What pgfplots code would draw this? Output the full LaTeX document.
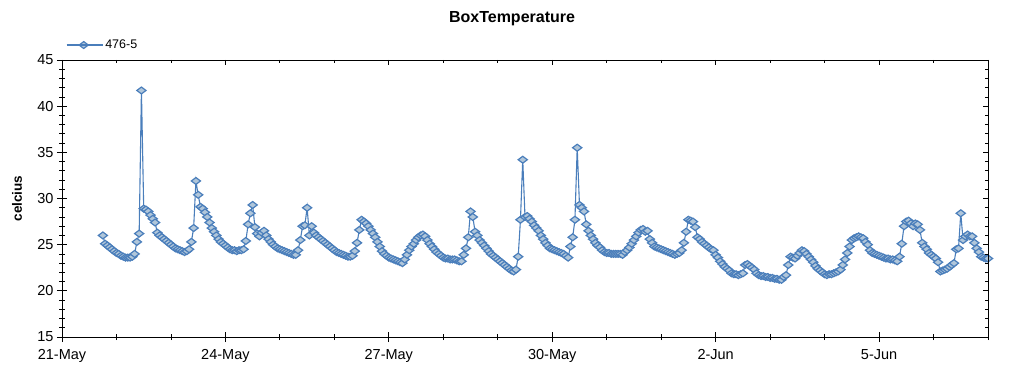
\documentclass[border=0pt]{standalone}
\usepackage{pgfplots}
\pgfplotsset{compat=1.18}
\usepackage{fontspec}
\setmainfont{Liberation Sans}
\definecolor{lineblue}{RGB}{74,126,187}
\definecolor{markfill}{RGB}{176,198,218}
\begin{document}
\begin{tikzpicture}[x=1pt,y=1pt]
\path[use as bounding box] (0,0) rectangle (1024,375);
\begin{axis}[
  at={(62pt,38pt)}, anchor=south west,
  scale only axis, width=926pt, height=277pt,
  xmin=0, xmax=408, ymin=15, ymax=45,
  xtick={0,72,144,216,288,360},
  xticklabels={21-May,24-May,27-May,30-May,2-Jun,5-Jun},
  minor xtick={24,48,96,120,168,192,240,264,312,336,384,408},
  ytick={15,20,25,30,35,40,45},
  minor ytick={16,17,18,19,21,22,23,24,26,27,28,29,31,32,33,34,36,37,38,39,41,42,43,44},
  xtick pos=lower, ytick pos=lower,
  tick align=center,
  major tick length=10pt, minor tick length=6pt,
  every tick/.style={black, line width=0.8pt},
  axis line style={black, line width=0.9pt},
  tick label style={font=\fontsize{14.5}{16}\selectfont},
  xticklabel style={yshift=-4pt},
  /pgf/number format/assume math mode=true,
  title={BoxTemperature},
  title style={font=\bfseries\fontsize{16}{18}\selectfont, at={(axis description cs:0.486,1)}, anchor=center, yshift=35pt},
  ylabel={celcius},
  ylabel style={font=\bfseries\fontsize{13.5}{15}\selectfont, at={(axis description cs:-0.0486,0.5)}, anchor=center},
  legend style={at={(axis description cs:0.0043,1.054)}, anchor=west, draw=none, fill=none, inner sep=0pt, font=\fontsize{12.5}{14}\selectfont},
  legend cell align=left,
  legend image code/.code={\draw[mark repeat=2,mark phase=2,#1] plot coordinates {(2pt,0pt) (17pt,0pt) (32pt,0pt)}; \path (0pt,0pt) -- (36pt,0pt);},
]
\addplot[color=lineblue, line width=1.1pt, mark=diamond*, mark size=4.6pt,
  mark options={rotate=90, fill=markfill, draw=lineblue, line width=1.2pt}]
coordinates {
(18,26.0)(19,25.1)(20,24.9)(21,24.7)(22,24.5)(23,24.3)(24,24.1)(25,24.0)(26,23.8)(27,23.7)
(28,23.6)(29,23.6)(30,23.6)(31,23.7)(32,24.0)(33,25.3)(34,26.2)(35,41.7)(36,28.9)(37,28.8)
(38,28.6)(39,28.2)(40,27.8)(41,27.4)(42,26.3)(43,26.0)(44,25.8)(45,25.6)(46,25.4)(47,25.2)
(48,25.0)(49,24.8)(50,24.6)(51,24.5)(52,24.4)(53,24.3)(54,24.2)(55,24.3)(56,24.5)(57,25.3)
(58,26.8)(59,31.9)(60,30.4)(61,29.1)(62,28.9)(63,28.5)(64,28.0)(65,27.4)(66,26.8)(67,26.4)
(68,26.0)(69,25.6)(70,25.3)(71,25.1)(72,24.9)(73,24.7)(74,24.5)(75,24.4)(76,24.4)(77,24.3)
(78,24.4)(79,24.4)(80,24.5)(81,25.4)(82,27.2)(83,28.4)(84,29.3)(85,26.9)(86,26.2)(87,25.9)
(88,26.3)(89,26.5)(90,26.0)(91,25.6)(92,25.3)(93,25.0)(94,24.8)(95,24.6)(96,24.5)(97,24.4)
(98,24.3)(99,24.2)(100,24.1)(101,24.0)(102,23.9)(103,23.9)(104,24.4)(105,25.5)(106,27.0)(107,27.1)
(108,29.0)(109,26.0)(110,27.0)(111,26.3)(112,26.0)(113,25.8)(114,25.6)(115,25.4)(116,25.2)(117,25.0)
(118,24.8)(119,24.6)(120,24.4)(121,24.2)(122,24.1)(123,24.0)(124,23.9)(125,23.8)(126,23.7)(127,23.7)
(128,23.8)(129,24.3)(130,25.2)(131,26.6)(132,27.7)(133,27.5)(134,27.3)(135,27.0)(136,26.6)(137,26.2)
(138,25.8)(139,25.3)(140,24.8)(141,24.3)(142,24.0)(143,23.8)(144,23.6)(145,23.5)(146,23.4)(147,23.3)
(148,23.2)(149,23.1)(150,23.0)(151,23.4)(152,23.9)(153,24.4)(154,24.8)(155,25.1)(156,25.5)(157,25.8)
(158,26.0)(159,26.1)(160,25.9)(161,25.5)(162,25.1)(163,24.8)(164,24.5)(165,24.2)(166,24.0)(167,23.8)
(168,23.6)(169,23.5)(170,23.5)(171,23.4)(172,23.4)(173,23.4)(174,23.3)(175,23.2)(176,23.2)(177,23.9)
(178,24.6)(179,25.8)(180,28.6)(181,28.0)(182,26.4)(183,26.0)(184,25.5)(185,25.2)(186,24.9)(187,24.6)
(188,24.3)(189,24.0)(190,23.8)(191,23.6)(192,23.4)(193,23.2)(194,23.0)(195,22.8)(196,22.6)(197,22.4)
(198,22.2)(199,22.1)(200,22.3)(201,23.7)(202,27.7)(203,34.2)(204,28.0)(205,28.1)(206,27.8)(207,27.5)
(208,27.1)(209,26.8)(210,26.5)(211,26.0)(212,25.6)(213,25.2)(214,24.9)(215,24.6)(216,24.5)(217,24.4)
(218,24.3)(219,24.2)(220,24.1)(221,24.0)(222,23.8)(223,23.6)(224,24.8)(225,25.8)(226,27.7)(227,35.5)
(228,29.3)(229,29.0)(230,28.6)(231,27.2)(232,26.5)(233,26.0)(234,25.6)(235,25.2)(236,24.9)(237,24.7)
(238,24.4)(239,24.2)(240,24.1)(241,24.1)(242,24.0)(243,24.0)(244,24.0)(245,24.0)(246,24.0)(247,23.9)
(248,24.2)(249,24.4)(250,24.7)(251,25.1)(252,25.5)(253,25.9)(254,26.3)(255,26.6)(256,26.7)(257,26.4)
(258,26.5)(259,25.6)(260,25.2)(261,24.8)(262,24.7)(263,24.6)(264,24.5)(265,24.4)(266,24.3)(267,24.2)
(268,24.1)(269,24.0)(270,23.9)(271,24.0)(272,24.1)(273,24.4)(274,25.2)(275,26.4)(276,27.7)(277,27.6)
(278,27.5)(279,26.9)(280,25.8)(281,25.6)(282,25.3)(283,25.1)(284,24.9)(285,24.7)(286,24.5)(287,24.4)
(288,23.9)(289,23.6)(290,23.2)(291,22.9)(292,22.6)(293,22.4)(294,22.2)(295,21.9)(296,21.8)(297,21.8)
(298,21.7)(299,21.8)(300,21.9)(301,22.8)(302,22.9)(303,22.7)(304,22.5)(305,22.3)(306,21.9)(307,21.7)
(308,21.6)(309,21.6)(310,21.5)(311,21.5)(312,21.4)(313,21.4)(314,21.3)(315,21.3)(316,21.2)(317,21.2)
(318,21.5)(319,21.7)(320,22.8)(321,23.7)(322,23.6)(323,23.5)(324,23.8)(325,24.1)(326,24.4)(327,24.3)
(328,24.0)(329,23.7)(330,23.4)(331,23.1)(332,22.7)(333,22.4)(334,22.2)(335,22.0)(336,21.8)(337,21.7)
(338,21.8)(339,21.8)(340,21.9)(341,22.0)(342,22.1)(343,22.3)(344,22.8)(345,23.4)(346,24.1)(347,24.8)
(348,25.5)(349,25.7)(350,25.8)(351,25.9)(352,25.8)(353,25.7)(354,25.3)(355,25.0)(356,24.4)(357,24.1)
(358,24.0)(359,23.9)(360,23.8)(361,23.7)(362,23.6)(363,23.5)(364,23.5)(365,23.4)(366,23.4)(367,23.3)
(368,23.2)(369,23.7)(370,25.1)(371,27.0)(372,27.5)(373,27.6)(374,27.3)(375,27.0)(376,27.3)(377,27.2)
(378,26.6)(379,25.2)(380,24.8)(381,24.5)(382,24.1)(383,23.9)(384,23.7)(385,23.5)(386,23.1)(387,22.1)
(388,22.2)(389,22.3)(390,22.4)(391,22.6)(392,22.8)(393,23.0)(394,24.5)(395,24.6)(396,28.4)(397,25.5)
(398,25.9)(399,26.1)(400,25.9)(401,25.9)(402,25.2)(403,24.6)(404,24.2)(405,23.7)(406,23.6)(407,23.5)
(408,23.5)
};
\addlegendentry{476-5}
\end{axis}
\begin{axis}[
  at={(62pt,38pt)}, anchor=south west,
  scale only axis, width=926pt, height=277pt,
  xmin=0, xmax=408, ymin=15, ymax=45,
  xtick={0,72,144,216,288,360}, xticklabels={},
  minor xtick={24,48,96,120,168,192,240,264,312,336,384,408},
  ytick={15,20,25,30,35,40,45}, yticklabels={},
  minor ytick={16,17,18,19,21,22,23,24,26,27,28,29,31,32,33,34,36,37,38,39,41,42,43,44},
  xtick pos=upper, ytick pos=upper,
  tick align=inside,
  major tick length=5pt, minor tick length=3.5pt,
  every tick/.style={black, line width=0.8pt},
  axis line style={black, line width=0.9pt},
]
\end{axis}
\end{tikzpicture}
\end{document}
